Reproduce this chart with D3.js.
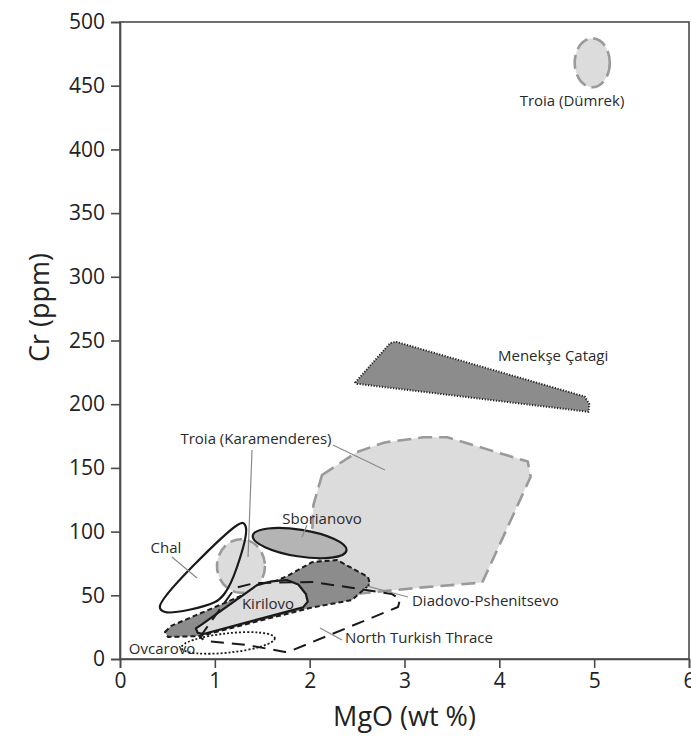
<!DOCTYPE html>
<html>
<head>
<meta charset="utf-8">
<script src="https://cdn.jsdelivr.net/npm/d3@7"></script>
<style>
  html, body { margin: 0; padding: 0; background: #fff; }
  svg { display: block; }
  text { font-family: "Open Sans", "DejaVu Sans", sans-serif; }
</style>
</head>
<body>
<svg id="chart" width="691" height="749"></svg>
<script>
// Axis ticks
const xTicks = [0, 1, 2, 3, 4, 5, 6];
const yTicks = [0, 50, 100, 150, 200, 250, 300, 350, 400, 450, 500];

// Field outlines, [MgO wt %, Cr ppm]
const troiaKaramenderesField = [[2.13,144.4],[2.50,162.5],[2.79,170],[3.20,174],[3.45,174],[4.30,155],[4.33,143],[3.82,60],[3.16,56],[2.32,50],[2.02,89],[2.04,121]];
const menekseField = [[2.48,217],[2.85,248],[2.91,249],[4.90,206],[4.95,200],[4.94,194],[2.50,216]];
const chalField = [[0.42,40.8],[1.234,105],[1.297,106.8],[1.329,102.8],[1.234,72.2],[1.107,51.8],[1.002,44.7],[0.475,36.9]];
const kirilovoField = [[0.80,24],[0.86,27],[1.445,58],[1.60,61],[1.76,62],[1.88,58.5],[1.96,51],[1.98,45],[1.93,40.5],[0.88,19.6],[0.82,20.5]];
const diadovoField = [[0.475,21.2],[0.54,26],[1.76,65],[2.025,76],[2.29,77.7],[2.615,64.4],[2.636,58.9],[2.446,46.3],[2.0,40],[0.844,18],[0.506,17.3]];
const northThraceField = [[0.844,17.3],[1.213,55.7],[1.424,59.7],[2.035,60.4],[2.531,54.9],[2.868,51],[2.953,47.1],[2.932,40.8],[1.824,7.1],[1.74,5.5],[1.339,11],[0.896,14.1]];

// Elliptical fields: centre, half-widths (data units), tilt (deg)
const troiaDumrekEllipse = { cx: 4.98, cy: 468, rx: 0.185, ry: 19.2, tilt: 0 };
const troiaKaramenderesEllipse = { cx: 1.276, cy: 73, rx: 0.253, ry: 21, tilt: 0 };
const sborianovoEllipse = { cx: 1.894, cy: 91, rx: 0.50, ry: 10.5, tilt: 9 };
const ovcarovoEllipse = { cx: 1.14, cy: 12.6, rx: 0.495, ry: 7.6, tilt: -6 };

// Label anchors and leader lines
const labels = [
  { text: "Troia (Dümrek)", x: 4.766, y: 438.8, anchor: "middle" },
  { text: "Menekşe Çatagi", x: 3.986, y: 238.6, anchor: "start" },
  { text: "Troia (Karamenderes)", x: 1.434, y: 173.5, anchor: "middle" },
  { text: "Sborianovo", x: 2.13, y: 110.7, anchor: "middle" },
  { text: "Chal", x: 0.485, y: 87.9, anchor: "middle" },
  { text: "Kirilovo", x: 1.561, y: 44, anchor: "middle" },
  { text: "Ovcarovo", x: 0.443, y: 8.6, anchor: "middle" },
  { text: "Diadovo-Pshenitsevo", x: 3.079, y: 46.3, anchor: "start" },
  { text: "North Turkish Thrace", x: 2.373, y: 17.3, anchor: "start" }
];
const leaders = [
  [[2.246,168],[2.794,148.4]],
  [[1.392,164],[1.35,80]],
  [[0.548,80],[0.812,63.6]],
  [[1.97,105],[1.92,95.8]],
  [[2.478,59.7],[3.037,48.7]],
  [[2.109,24.3],[2.341,14.9]]
];

const svg = d3.select("#chart");
const mLeft = 120, mRight = 689, mTop = 22, mBottom = 659;

const x = d3.scaleLinear().domain([0, 6]).range([mLeft, mRight]);
const y = d3.scaleLinear().domain([0, 500]).range([mBottom, mTop]);

const axisColor = "#4a4a4a";

// Plot frame
svg.append("rect")
  .attr("x", mLeft).attr("y", mTop)
  .attr("width", mRight - mLeft).attr("height", mBottom - mTop)
  .attr("fill", "none").attr("stroke", axisColor).attr("stroke-width", 1.6);

const plot = svg.append("g");

const poly = d3.line().x(d => x(d[0])).y(d => y(d[1])).curve(d3.curveLinearClosed);
const roundPoly = d3.line().x(d => x(d[0])).y(d => y(d[1])).curve(d3.curveCatmullRomClosed.alpha(0.5));

function ellipse(e) {
  const px = x(e.cx), py = y(e.cy);
  return plot.append("ellipse")
    .attr("cx", px).attr("cy", py)
    .attr("rx", x(e.cx + e.rx) - px)
    .attr("ry", py - y(e.cy + e.ry))
    .attr("transform", `rotate(${e.tilt} ${px} ${py})`);
}

const lightFill = "#dcdcdc", midFill = "#b4b4b4", darkFill = "#8c8c8c";

// Troia (Karamenderes) main field
plot.append("path").attr("d", poly(troiaKaramenderesField))
  .attr("fill", lightFill).attr("stroke", "#9a9a9a").attr("stroke-width", 2.6)
  .attr("stroke-dasharray", "14 7").attr("stroke-linejoin", "round");

// Menekşe Çatagi
plot.append("path").attr("d", poly(menekseField))
  .attr("fill", darkFill).attr("stroke", "#222").attr("stroke-width", 2)
  .attr("stroke-dasharray", "1.2 1.6").attr("stroke-linejoin", "round");

// Troia (Dümrek)
ellipse(troiaDumrekEllipse)
  .attr("fill", lightFill).attr("stroke", "#9a9a9a").attr("stroke-width", 2.6)
  .attr("stroke-dasharray", "14 6");

// Sborianovo
ellipse(sborianovoEllipse)
  .attr("fill", midFill).attr("stroke", "#1a1a1a").attr("stroke-width", 2.2);

// Troia (Karamenderes) small field
ellipse(troiaKaramenderesEllipse)
  .attr("fill", lightFill).attr("stroke", "#9a9a9a").attr("stroke-width", 2.6)
  .attr("stroke-dasharray", "12 6");

// Diadovo-Pshenitsevo
plot.append("path").attr("d", poly(diadovoField))
  .attr("fill", darkFill).attr("stroke", "#1a1a1a").attr("stroke-width", 2)
  .attr("stroke-dasharray", "5 3").attr("stroke-linejoin", "round");

// Kirilovo
plot.append("path").attr("d", poly(kirilovoField))
  .attr("fill", lightFill).attr("stroke", "#1a1a1a").attr("stroke-width", 2.2)
  .attr("stroke-linejoin", "round");

// Chal
plot.append("path").attr("d", roundPoly(chalField))
  .attr("fill", "none").attr("stroke", "#1a1a1a").attr("stroke-width", 2.2);

// North Turkish Thrace
plot.append("path").attr("d", poly(northThraceField))
  .attr("fill", "none").attr("stroke", "#1a1a1a").attr("stroke-width", 2)
  .attr("stroke-dasharray", "13 8").attr("stroke-linejoin", "round");

// Ovcarovo
ellipse(ovcarovoEllipse)
  .attr("fill", "none").attr("stroke", "#1a1a1a").attr("stroke-width", 1.8)
  .attr("stroke-dasharray", "2 2");

// Leader lines
plot.selectAll("line.leader").data(leaders).join("line")
  .attr("class", "leader")
  .attr("x1", d => x(d[0][0])).attr("y1", d => y(d[0][1]))
  .attr("x2", d => x(d[1][0])).attr("y2", d => y(d[1][1]))
  .attr("stroke", "#8a8a8a").attr("stroke-width", 1.2);

// Field labels
plot.selectAll("text.lbl").data(labels).join("text")
  .attr("class", "lbl")
  .attr("x", d => x(d.x)).attr("y", d => y(d.y))
  .attr("text-anchor", d => d.anchor)
  .attr("dominant-baseline", "central")
  .attr("font-size", 15)
  .attr("fill", "#2a2a2a")
  .text(d => d.text);

// Axes
const xAxis = svg.append("g").attr("transform", `translate(0,${mBottom})`)
  .call(d3.axisBottom(x).tickValues(xTicks).tickSize(9).tickPadding(5).tickFormat(d3.format("d")));
const yAxis = svg.append("g").attr("transform", `translate(${mLeft},0)`)
  .call(d3.axisLeft(y).tickValues(yTicks).tickSize(9).tickPadding(6).tickFormat(d3.format("d")));
[xAxis, yAxis].forEach(a => {
  a.select(".domain").attr("stroke", axisColor).attr("stroke-width", 1.6);
  a.selectAll(".tick line").attr("stroke", axisColor).attr("stroke-width", 1.6);
  a.selectAll(".tick text").attr("fill", "#222").attr("font-size", 21)
    .attr("font-family", "'Open Sans', sans-serif");
});

// Axis titles
svg.append("text")
  .attr("x", (mLeft + mRight) / 2).attr("y", 715)
  .attr("text-anchor", "middle").attr("dominant-baseline", "central")
  .attr("font-size", 27).attr("fill", "#222")
  .text("MgO (wt %)");
svg.append("text")
  .attr("transform", `translate(38,${(mTop + mBottom) / 2 - 33}) rotate(-90)`)
  .attr("text-anchor", "middle").attr("dominant-baseline", "central")
  .attr("font-size", 27).attr("fill", "#222")
  .text("Cr (ppm)");
</script>
</body>
</html>
